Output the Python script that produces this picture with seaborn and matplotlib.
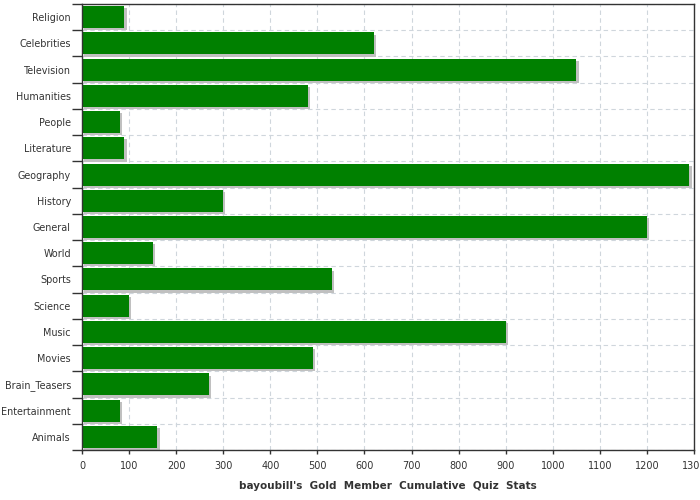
import pandas as pd
import matplotlib
matplotlib.use("Agg")
import matplotlib.pyplot as plt
import matplotlib.patheffects as pe
import seaborn as sns
from matplotlib.ticker import MultipleLocator, FixedLocator

# quiz totals per category, top to bottom as shown
categories = ["Religion", "Celebrities", "Television", "Humanities", "People",
              "Literature", "Geography", "History", "General", "World", "Sports",
              "Science", "Music", "Movies", "Brain_Teasers", "Entertainment", "Animals"]
scores = [90, 620, 1050, 480, 80, 90, 1290, 300, 1200, 150, 530,
          100, 900, 490, 270, 80, 160]

df = pd.DataFrame({"category": categories, "score": scores})

sns.set_style("white")
plt.rcParams["font.family"] = ["DejaVu Sans"]

fig = plt.figure(figsize=(7, 5), dpi=100)
ax = fig.add_axes([82 / 700, 50 / 500, 612 / 700, 446 / 500])

sns.barplot(data=df, x="score", y="category", orient="h", color="#008000",
            saturation=1, width=0.84, ax=ax)

# grey drop shadow under each bar
for bar in ax.patches:
    bar.set_path_effects([pe.SimplePatchShadow(offset=(1.6, -1.6), shadow_rgbFace="#c0c0c0", alpha=1),
                          pe.Normal()])
    bar.set_linewidth(0)

ax.set_xlim(0, 1300)
ax.xaxis.set_major_locator(MultipleLocator(100))

# category boundaries carry the tick marks and horizontal grid
n = len(categories)
ax.yaxis.set_minor_locator(FixedLocator([i - 0.5 for i in range(n + 1)]))
ax.tick_params(axis="y", which="major", length=0, pad=8, labelsize=6.9, labelcolor="#333333")
ax.tick_params(axis="y", which="minor", length=7, width=1, color="#333333", left=True)
ax.tick_params(axis="x", which="major", length=3, width=1, color="#333333", pad=5,
               labelsize=7, labelcolor="#333333", bottom=True)

ax.grid(False)
ax.grid(True, axis="x", which="major", color="#cfd6dc", linestyle=(0, (4, 3)), linewidth=0.8)
ax.grid(True, axis="y", which="minor", color="#cfd6dc", linestyle=(0, (4, 3)), linewidth=0.8)
ax.set_axisbelow(True)

for side in ["left", "right", "top", "bottom"]:
    ax.spines[side].set_visible(True)
    ax.spines[side].set_color("#333333")
    ax.spines[side].set_linewidth(1)

ax.set_ylabel("")
ax.set_xlabel("bayoubill's  Gold  Member  Cumulative  Quiz  Stats", fontsize=7.5,
              fontweight="bold", color="#333333", labelpad=7)

fig.savefig("out.png", dpi=100)
